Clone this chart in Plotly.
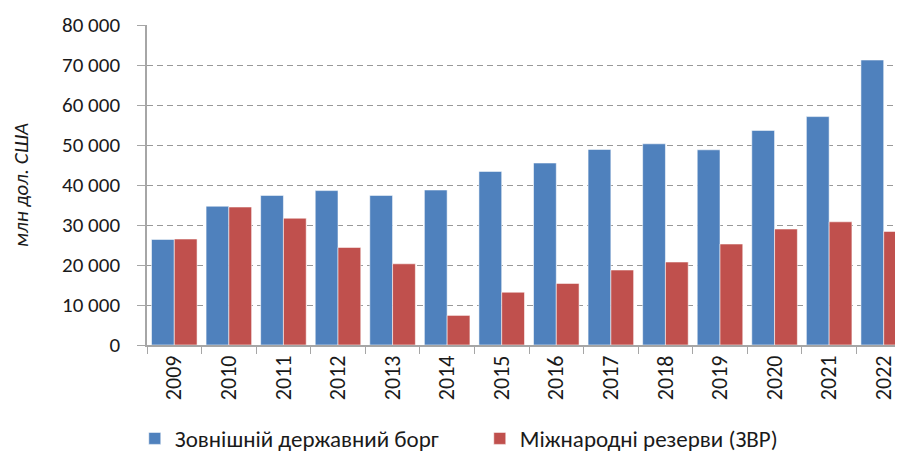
import plotly.graph_objects as go

years = ["2009", "2010", "2011", "2012", "2013", "2014", "2015", "2016",
         "2017", "2018", "2019", "2020", "2021", "2022"]
external_debt = [26400, 34700, 37400, 38600, 37400, 38750, 43400, 45500,
                 48900, 50300, 48800, 53650, 57100, 71250]
reserves = [26500, 34500, 31700, 24400, 20300, 7400, 13200, 15400,
            18750, 20750, 25250, 29000, 30800, 28400]
series_names = ["Зовнішній державний борг", "Міжнародні резерви (ЗВР)"]
y_title = "млн дол. США"
y_ticks = [0, 10000, 20000, 30000, 40000, 50000, 60000, 70000, 80000]
y_ticktext = ["0", "10 000", "20 000", "30 000", "40 000", "50 000",
              "60 000", "70 000", "80 000"]

FONT = "Carlito, Calibri, Lato, 'Open Sans', sans-serif"

fig = go.Figure()
fig.add_trace(go.Bar(x=years, y=external_debt, name=series_names[0],
                     marker=dict(color="#4F81BD",
                                 line=dict(color="rgba(255,255,255,0.55)", width=1))))
fig.add_trace(go.Bar(x=years, y=reserves, name=series_names[1],
                     marker=dict(color="#C0504D",
                                 line=dict(color="rgba(255,255,255,0.55)", width=1))))

fig.update_layout(
    width=903, height=456,
    margin=dict(l=139, r=0, t=17, b=119, autoexpand=False),
    paper_bgcolor="white", plot_bgcolor="white",
    barmode="group", bargap=0.165, bargroupgap=0,
    font=dict(family=FONT, size=20, color="#1a1a1a"),
    showlegend=True,
    legend=dict(orientation="h", x=-0.016, xanchor="left",
                y=-0.292, yanchor="middle",
                entrywidth=300, entrywidthmode="pixels",
                font=dict(size=23, color="#1a1a1a"),
                itemclick=False),
    xaxis=dict(
        type="category", range=[-0.5, 13.5], automargin=False,
        showline=True, linecolor="#a6a6a6", linewidth=1.5,
        ticks="outside", tickson="boundaries", ticklen=7, tickcolor="#a6a6a6",
        tickangle=-90, tickfont=dict(size=22, color="#1a1a1a"),
        showgrid=False,
    ),
    yaxis=dict(
        range=[0, 80000], tickvals=y_ticks, ticktext=y_ticktext, automargin=False,
        showline=True, linecolor="#a6a6a6", linewidth=1.5,
        ticks="outside", ticklen=8, tickcolor="#a6a6a6", ticklabelstandoff=13,
        showgrid=True, gridcolor="#999999", gridwidth=1, griddash="6px,4px",
        tickfont=dict(size=21, color="#1a1a1a"),
        title=dict(text="<i>" + y_title + "</i>", font=dict(size=21, color="#1a1a1a"),
                   standoff=38),
        zeroline=False,
    ),
)

fig.write_html("out.html")
